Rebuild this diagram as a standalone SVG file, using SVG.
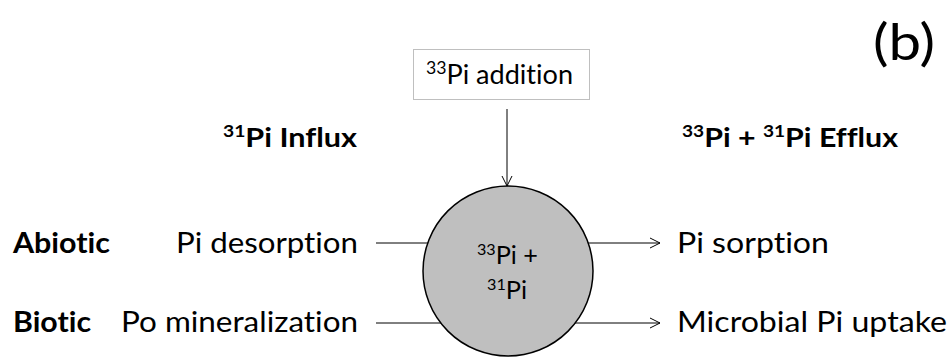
<svg xmlns="http://www.w3.org/2000/svg" width="949" height="360" viewBox="0 0 949 360">
<style>
text{font-family:Lato,"Open Sans","Liberation Sans",sans-serif;fill:#000;font-variant-ligatures:none;font-feature-settings:"liga" 0,"dlig" 0}
.b{font-weight:bold}
.l{font-size:29px}
.h{font-size:27px}
.s{font-size:25px}
.conn line{stroke:#000;stroke-width:1}
</style>
<defs>
<marker id="v" viewBox="0 0 12 12" refX="11" refY="6" markerWidth="12" markerHeight="12" markerUnits="userSpaceOnUse" orient="auto">
<path d="M1,1 L11,6 L1,11" fill="none" stroke="#000" stroke-width="1"/>
</marker>
</defs>
<rect width="949" height="360" fill="#fff"/>
<g class="conn">
<line x1="507" y1="109" x2="507" y2="186" marker-end="url(#v)"/>
<line x1="376" y1="243" x2="430" y2="243"/>
<line x1="376" y1="323" x2="445" y2="323"/>
<line x1="586" y1="243" x2="660" y2="243" marker-end="url(#v)"/>
<line x1="571" y1="323" x2="660" y2="323" marker-end="url(#v)"/>
</g>
<g id="addition">
<rect x="413.5" y="49.5" width="176" height="50" fill="#fff" stroke="#bfbfbf" stroke-width="1"/>
<text x="426" y="84" font-size="26" textLength="147" lengthAdjust="spacingAndGlyphs"><tspan font-size="17" dy="-10">33</tspan><tspan dy="10">Pi addition</tspan></text>
</g>
<g id="pool">
<circle cx="508" cy="271" r="85" fill="#bfbfbf" stroke="#000" stroke-width="1.5"/>
<text class="s" x="477" y="264" textLength="61" lengthAdjust="spacingAndGlyphs"><tspan font-size="16" dy="-9">33</tspan><tspan dy="9">Pi +</tspan></text>
<text class="s" x="487" y="299" textLength="40" lengthAdjust="spacingAndGlyphs"><tspan font-size="16" dy="-9">31</tspan><tspan dy="9">Pi</tspan></text>
</g>
<g id="influx">
<text class="h b" x="223" y="147" textLength="134" lengthAdjust="spacingAndGlyphs"><tspan font-size="17" dy="-10">31</tspan><tspan dy="10">Pi Influx</tspan></text>
</g>
<g id="efflux">
<text class="h b" x="682" y="147" textLength="216" lengthAdjust="spacingAndGlyphs"><tspan font-size="17" dy="-10">33</tspan><tspan dy="10">Pi + </tspan><tspan font-size="17" dy="-10">31</tspan><tspan dy="10">Pi Efflux</tspan></text>
</g>
<g id="abiotic">
<text class="l b" x="13" y="253" textLength="97" lengthAdjust="spacingAndGlyphs">Abiotic</text>
</g>
<g id="biotic">
<text class="l b" x="13" y="332" textLength="78" lengthAdjust="spacingAndGlyphs">Biotic</text>
</g>
<g id="desorption">
<text class="l" x="176" y="253" textLength="182" lengthAdjust="spacingAndGlyphs">Pi desorption</text>
</g>
<g id="mineralization">
<text class="l" x="121" y="332" textLength="237" lengthAdjust="spacingAndGlyphs">Po mineralization</text>
</g>
<g id="sorption">
<text class="l" x="677" y="253" textLength="152" lengthAdjust="spacingAndGlyphs">Pi sorption</text>
</g>
<g id="uptake">
<text class="l" x="677" y="332" textLength="270" lengthAdjust="spacingAndGlyphs">Microbial Pi uptake</text>
</g>
<g id="label">
<text x="873" y="60" font-size="50" textLength="62" lengthAdjust="spacingAndGlyphs">(b)</text>
</g>
</svg>
